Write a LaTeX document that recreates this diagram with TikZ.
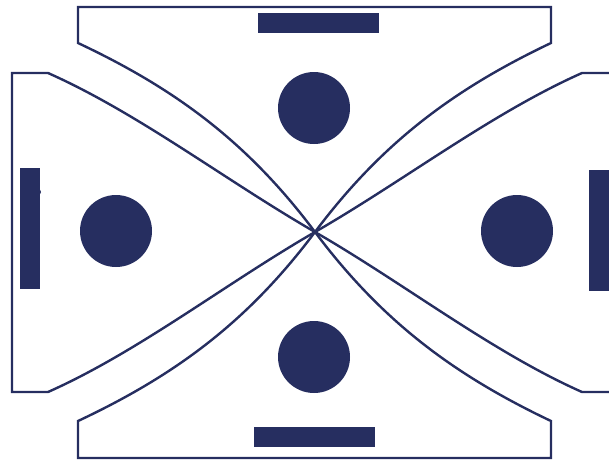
\documentclass[tikz,border=0pt]{standalone}
\usepackage{tikz}
\definecolor{navy}{RGB}{38,46,96}

\begin{document}
\begin{tikzpicture}[x=1pt,y=-1pt,
  outline/.style={draw=navy,line width=2.4pt,line join=miter},
  ball/.style={circle,fill=navy,inner sep=0pt,minimum size=72pt},
  bar/.style={rectangle,fill=navy,inner sep=0pt}]
\useasboundingbox (0,0) rectangle (609,461);
\clip (0,0) rectangle (609,461);
\coordinate (c) at (315,232);
% top and bottom lobes
\draw[outline] (c) .. controls (249,144) and (178,90) .. (78,43) -- (78,7)
  -- (551,7) -- (551,43) .. controls (452,90) and (381,144) .. (c);
\draw[outline] (c) .. controls (249,320) and (178,374) .. (78,421) -- (78,458)
  -- (551,458) -- (551,421) .. controls (452,374) and (381,320) .. (c);
% side lobes
\draw[outline] (c) .. controls (225,180) and (138,113) .. (48,73) -- (12,73)
  -- (12,392) -- (48,392) .. controls (138,352) and (225,284) .. (c);
\draw[outline] (c) .. controls (405,180) and (492,113) .. (582,73) -- (618,73)
  -- (618,392) -- (582,392) .. controls (492,352) and (405,284) .. (c);
% players
\node[ball] (ptop) at (314,108) {};
\node[ball] (pbot) at (314,357) {};
\node[ball] (pleft) at (116,231) {};
\node[ball] (pright) at (517,231) {};
% goals
\node[bar,minimum width=121pt,minimum height=20pt] (gtop) at (318.5,23) {};
\node[bar,minimum width=121pt,minimum height=20pt] (gbot) at (314.5,437) {};
\node[bar,minimum width=20pt,minimum height=121pt] (gleft) at (30,228.5) {};
\node[bar,minimum width=20pt,minimum height=121pt] (gright) at (599,230.5) {};
\node[circle,fill=navy,inner sep=0pt,minimum size=6pt] (knob) at (38,192) {};
\end{tikzpicture}
\end{document}
